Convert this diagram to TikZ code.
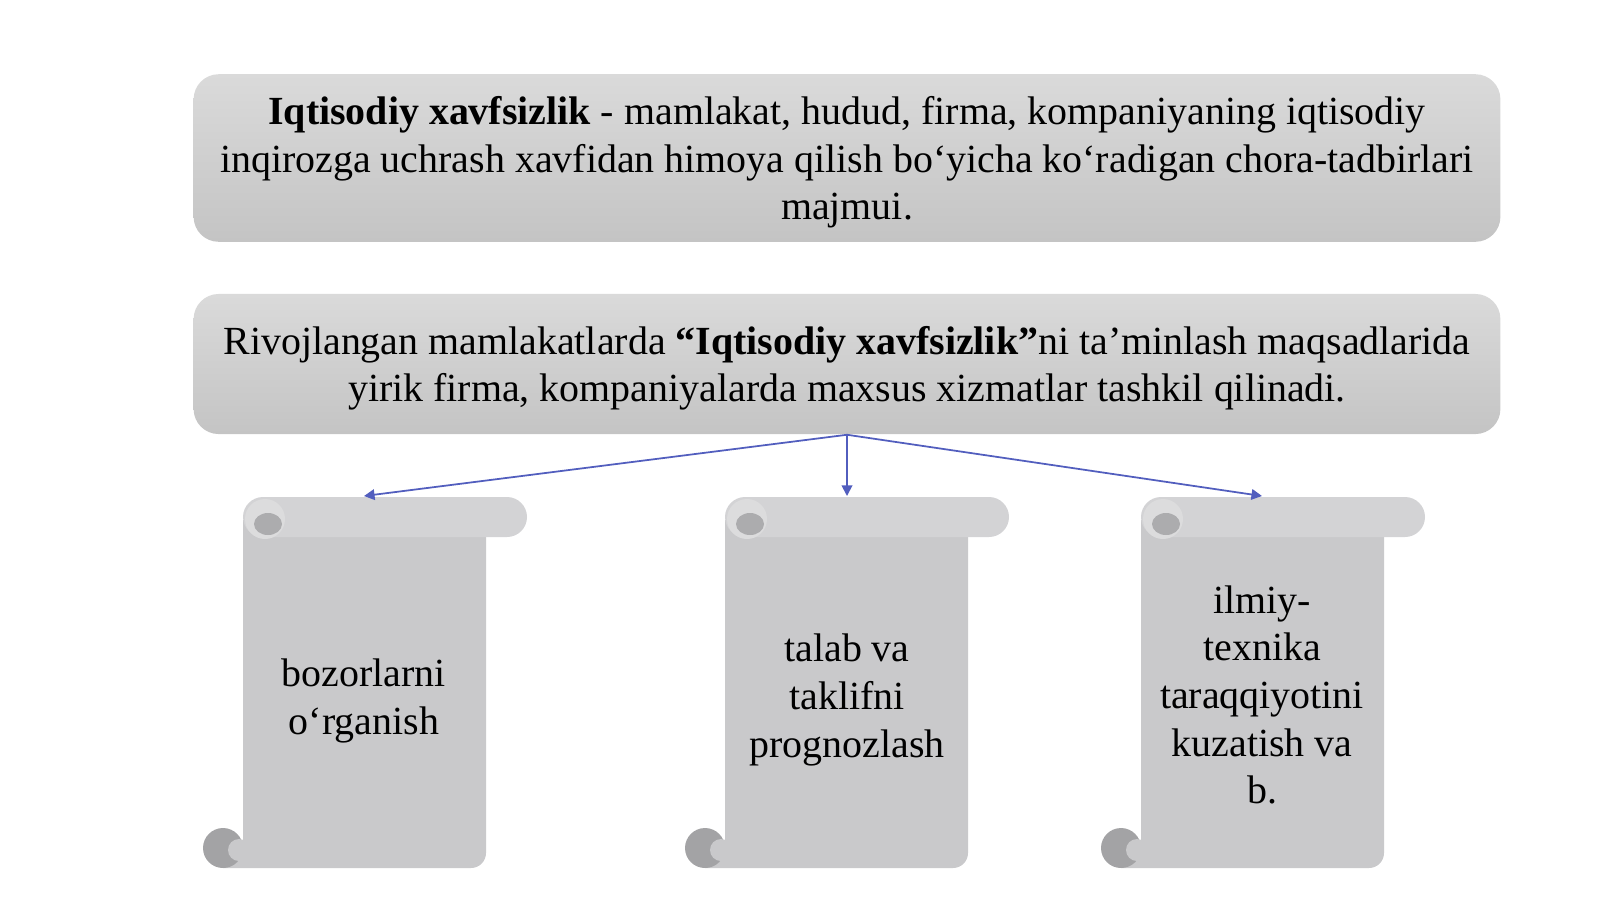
\documentclass[tikz,border=0pt]{standalone}
\usepackage{fontspec}
\setmainfont{Liberation Serif}
\usetikzlibrary{arrows.meta, positioning, calc}
\definecolor{boxtop}{RGB}{218, 218, 218}
\definecolor{boxbottom}{RGB}{196, 196, 196}
\definecolor{scrollgray}{RGB}{201, 201, 203}
\definecolor{bargray}{RGB}{211, 211, 213}
\definecolor{curlgray}{RGB}{163, 163, 165}
\definecolor{linkblue}{RGB}{82, 94, 190}

\begin{document}
\begin{tikzpicture}[
        x=0.01cm, y=-0.01cm,
        box/.style={draw=none, rounded corners=0.25cm,
                    top color=boxtop, bottom color=boxbottom,
                    minimum width=13.06cm, align=center, text depth=-2pt,
                    font=\fontsize{11.35}{13.55}\selectfont},
        scrolltext/.style={align=center, font=\fontsize{11.35}{13.55}\selectfont},
        link/.style={-{Triangle[length=3pt, width=3pt]}, linkblue, line width=0.5pt},
      ]
        \useasboundingbox (0,0) rectangle (1600,899);

        \node[box, minimum height=1.675cm] (def) at (847,158)
          {\textbf{Iqtisodiy xavfsizlik} - mamlakat, hudud, firma, kompaniyaning iqtisodiy\\
           inqirozga uchrash xavfidan himoya qilish bo‘yicha ko‘radigan chora-tadbirlari\\
           majmui.};
        \node[box, minimum height=1.40cm] (dev) at (847,364)
          {Rivojlangan mamlakatlarda \textbf{“Iqtisodiy xavfsizlik”}ni ta’minlash maqsadlarida\\
           yirik firma, kompaniyalarda maxsus xizmatlar tashkil qilinadi.};

        % scrolls
        \foreach \x/\cx/\ty/\name/\txt in {
            243/364/701/s1/{bozorlarni\\o‘rganish},
            725/847/700/s2/{talab va\\taklifni\\prognozlash},
            1141/1262/695/s3/{ilmiy-\\texnika\\taraqqiyotini\\kuzatish va\\b.}} {
          \fill[scrollgray] (\x,520) [rounded corners=0.15cm] -- (\x+243,520)
            -- (\x+243,868) [sharp corners] -- (\x-20,868) -- (\x-20,840) -- (\x,840) -- cycle;
          \fill[curlgray] (\x-20,848) circle (20);
          \fill[scrollgray] (\x-4,850) circle (11);
          \fill[bargray, rounded corners=0.2cm] (\x,497) rectangle (\x+284,537);
          \fill[bargray!80!white] (\x+22,519) circle (20);
          \fill[curlgray!90!white] (\x+25,524) ellipse (14 and 11);
          \coordinate (\name-in) at (\cx,496);
          \node[scrolltext] (\name) at (\cx,\ty) {\txt};
        }

        \draw[link] (dev.south) -- (s1-in);
        \draw[link] (dev.south) -- (s2-in);
        \draw[link] (dev.south) -- (s3-in);
      \end{tikzpicture}
\end{document}
